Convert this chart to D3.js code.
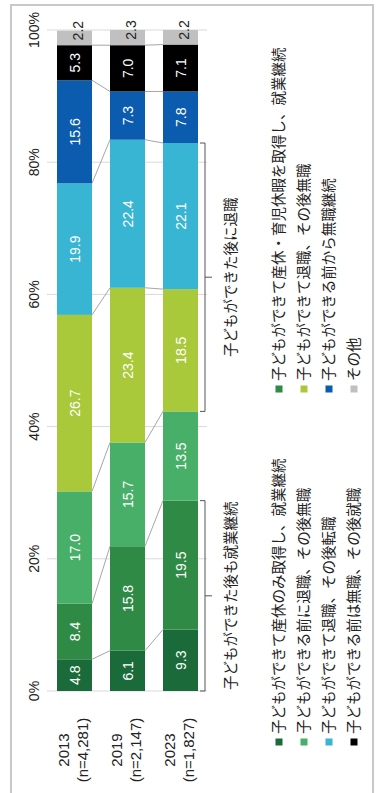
<!DOCTYPE html>
<html>
<head>
<meta charset="utf-8">
<script src="https://cdn.jsdelivr.net/npm/d3@7"></script>
<style>
  html, body { margin: 0; padding: 0; background: #ffffff; }
  svg { display: block; }
</style>
</head>
<body>
<script>
// ---- data ----
const years = ["2013", "2019", "2023"];
const nLabels = ["(n=4,281)", "(n=2,147)", "(n=1,827)"];
const categories = [
  "子どもができて産休のみ取得し、就業継続",
  "子どもができて産休・育児休暇を取得し、就業継続",
  "子どもができる前に退職、その後無職",
  "子どもができて退職、その後無職",
  "子どもができて退職、その後転職",
  "子どもができる前から無職継続",
  "子どもができる前は無職、その後就職",
  "その他"
];
const colors = ["#1b6b3a", "#2f8a46", "#47af68", "#a9c83a", "#37b5d2", "#0b5cae", "#000000", "#c0c0c0"];
const values2013 = [4.8, 8.4, 17.0, 26.7, 19.9, 15.6, 5.3, 2.2];
const values2019 = [6.1, 15.8, 15.7, 23.4, 22.4, 7.3, 7.0, 2.3];
const values2023 = [9.3, 19.5, 13.5, 18.5, 22.1, 7.8, 7.1, 2.2];
const tickValues = [0, 20, 40, 60, 80, 100];
const tickLabels = ["0%", "20%", "40%", "60%", "80%", "100%"];
const bracketLabels = ["子どもができた後も就業継続", "子どもができた後に退職"];
const bracketRanges = [[0, 1], [3, 4]];
const legendLeft = [0, 2, 4, 6];
const legendRight = [1, 3, 5, 7];

// ---- setup ----
const W = 381, H = 793;
const latin = "'Liberation Sans', Arial, sans-serif";
const cjk = "'Noto Sans CJK JP', 'Noto Sans', sans-serif";

const svg = d3.select("body").append("svg").attr("width", W).attr("height", H);

svg.append("rect")
  .attr("x", 11).attr("y", 5).attr("width", 362).attr("height", 800)
  .attr("fill", "none").attr("stroke", "#c8c8c8").attr("stroke-width", 2);

// chart is drawn unrotated (width = H, height = W) and then rotated -90deg
const g = svg.append("g").attr("transform", `translate(0,${H}) rotate(-90)`);

const x = d3.scaleLinear().domain([0, 100]).range([102, 763]);
const y = d3.scaleBand().domain(years).range([48, 207])
  .paddingInner(18 / 53).paddingOuter(9 / 53);

const rows = [values2013, values2019, values2023].map((vals, i) => {
  const o = { year: years[i] };
  vals.forEach((v, k) => o[k] = v);
  return o;
});
const keys = d3.range(categories.length);
const series = d3.stack().keys(keys)(rows);

// gridlines
g.append("g").selectAll("line").data(tickValues).join("line")
  .attr("x1", d => x(d)).attr("x2", d => x(d))
  .attr("y1", 47).attr("y2", 207)
  .attr("stroke", "#d9d9d9").attr("stroke-width", 1);

// tick labels
g.append("g").selectAll("text").data(tickValues).join("text")
  .attr("x", d => x(d)).attr("y", 39)
  .attr("text-anchor", "middle")
  .attr("font-family", latin).attr("font-size", 14).attr("fill", "#222")
  .text((d, i) => tickLabels[i]);

// connector lines
const conn = [];
for (let i = 0; i < years.length - 1; i++) {
  for (let k = 0; k < categories.length - 1; k++) {
    conn.push({ a: series[k][i][1], b: series[k][i + 1][1], y1: y(years[i]) + y.bandwidth(), y2: y(years[i + 1]) });
  }
}
g.append("g").selectAll("line").data(conn).join("line")
  .attr("x1", d => x(d.a)).attr("x2", d => x(d.b))
  .attr("y1", d => d.y1).attr("y2", d => d.y2)
  .attr("stroke", "#a6a6a6").attr("stroke-width", 1);

// bars
const sg = g.append("g").selectAll("g").data(series).join("g")
  .attr("fill", (d, k) => colors[k]);
sg.selectAll("rect").data(d => d).join("rect")
  .attr("x", d => x(d[0]))
  .attr("width", d => x(d[1]) - x(d[0]))
  .attr("y", d => y(d.data.year))
  .attr("height", y.bandwidth());

// value labels
const fmt = d3.format(".1f");
const labels = [];
series.forEach((s, k) => s.forEach(d => labels.push({ k, d })));
g.append("g").selectAll("text").data(labels).join("text")
  .attr("x", o => o.k === categories.length - 1 ? x(o.d[1]) : (x(o.d[0]) + x(o.d[1])) / 2)
  .attr("y", o => y(o.d.data.year) + y.bandwidth() / 2 + (o.k === categories.length - 1 ? 8.5 : 5))
  .attr("text-anchor", "middle")
  .attr("font-family", latin).attr("font-size", 14)
  .attr("fill", o => o.k === categories.length - 1 ? "#222" : "#ffffff")
  .text(o => fmt(o.d[1] - o.d[0]));

// category labels
const cat = g.append("g").selectAll("text").data(years).join("text")
  .attr("text-anchor", "middle")
  .attr("font-family", latin).attr("font-size", 15).attr("fill", "#222");
cat.append("tspan").attr("x", 43).attr("y", d => y(d) + y.bandwidth() / 2 - 6).text(d => d);
cat.append("tspan").attr("x", 43).attr("y", d => y(d) + y.bandwidth() / 2 + 13).text((d, i) => nLabels[i]);

// brackets on last bar
const last = years.length - 1;
const bv = 205;
const br = g.append("g").selectAll("g").data(bracketRanges).join("g");
br.append("path")
  .attr("d", r => {
    const a = x(series[r[0]][last][0]), b = x(series[r[1]][last][1]), m = (a + b) / 2;
    return `M${a},${bv - 5}H${a}V${bv}H${b}V${bv - 5}M${m},${bv}V${bv + 7}`;
  })
  .attr("fill", "none").attr("stroke", "#555").attr("stroke-width", 1);
br.append("text")
  .attr("x", r => (x(series[r[0]][last][0]) + x(series[r[1]][last][1])) / 2)
  .attr("y", 236)
  .attr("text-anchor", "middle")
  .attr("font-family", cjk).attr("font-size", 14.5).attr("fill", "#222")
  .text((r, i) => bracketLabels[i]);

// legend
const legendRows = [279, 304, 329, 354];
function legendCol(idxs, u0) {
  const lg = g.append("g").selectAll("g").data(idxs).join("g")
    .attr("transform", (d, j) => `translate(${u0},${legendRows[j]})`);
  lg.append("rect").attr("x", -3.5).attr("y", -3.5).attr("width", 7).attr("height", 7)
    .attr("fill", d => colors[d]);
  lg.append("text").attr("x", 8).attr("y", 5)
    .attr("font-family", cjk).attr("font-size", 14.5).attr("fill", "#222")
    .text(d => categories[d]);
}
legendCol(legendLeft, 51);
legendCol(legendRight, 404);
</script>
</body>
</html>
